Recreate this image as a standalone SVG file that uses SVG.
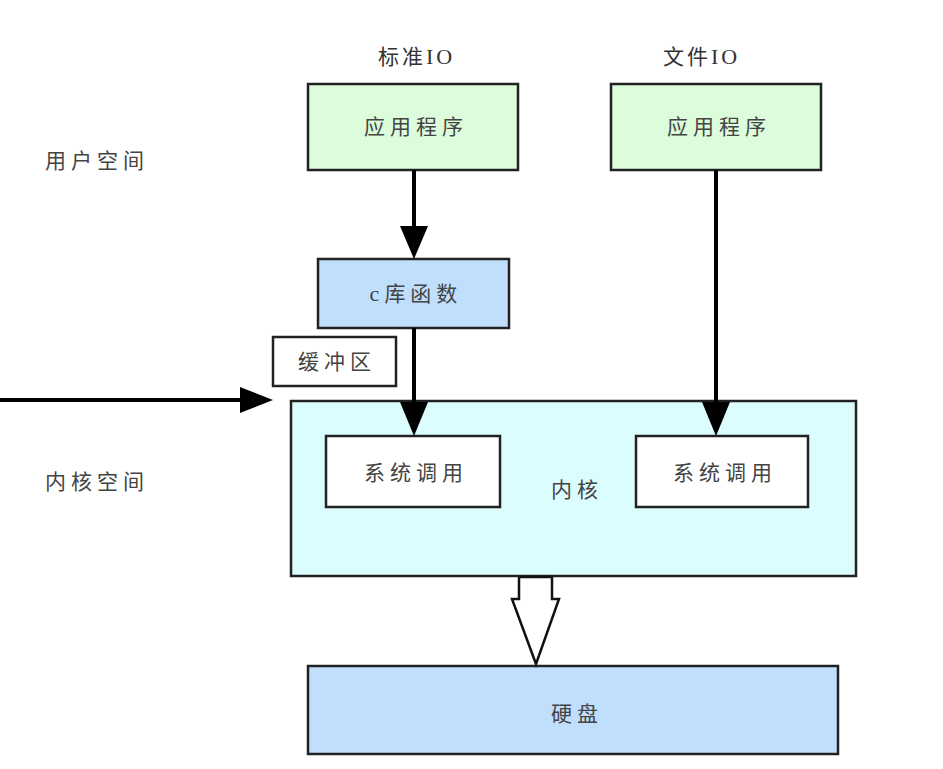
<svg xmlns="http://www.w3.org/2000/svg" width="943" height="769" viewBox="0 0 943 769">
<defs>
<style>
.box{stroke:#222;stroke-width:2.5}
.app{fill:#dcfcdc}
.blue{fill:#bfdffd}
.kern{fill:#dcfdfd}
.white{fill:#fff}
.t{font-family:"Noto Sans CJK SC","Liberation Serif",sans-serif;font-size:21px;fill:#444;letter-spacing:5px}
.lbl{font-family:"Noto Sans CJK SC","Liberation Serif",sans-serif;font-size:21px;fill:#333;letter-spacing:3px}
.ser{font-family:"Liberation Serif",serif;font-size:22px}
.ln{stroke:#000;stroke-width:4;fill:none}
.head{fill:#000}
</style>
</defs>
<rect width="943" height="769" fill="#fff"/>
<g id="label-user"><text class="t" x="45" y="168">用户空间</text></g>
<g id="label-kernel-space"><text class="t" x="45" y="489">内核空间</text></g>
<g id="label-stdio"><text class="lbl" x="378" y="64">标准<tspan class="ser">IO</tspan></text></g>
<g id="label-fileio"><text class="lbl" x="663" y="64">文件<tspan class="ser">IO</tspan></text></g>
<g id="kernel">
<rect class="box kern" x="291" y="401" width="565" height="175"/>
<text class="t" x="577" y="497" text-anchor="middle">内核</text>
</g>
<g id="app1"><rect class="box app" x="308" y="84" width="210" height="86"/><text class="t" x="416" y="134" text-anchor="middle">应用程序</text></g>
<g id="app2"><rect class="box app" x="611" y="84" width="210" height="86"/><text class="t" x="719" y="134" text-anchor="middle">应用程序</text></g>
<g id="clib"><rect class="box blue" x="318" y="259" width="191" height="69"/><text class="t" x="416" y="301" text-anchor="middle"><tspan class="ser">c</tspan>库函数</text></g>
<g id="buffer"><rect class="box white" x="273" y="337" width="123" height="49"/><text class="t" x="337" y="369" text-anchor="middle">缓冲区</text></g>
<g id="syscall1"><rect class="box white" x="326" y="436" width="174" height="71"/><text class="t" x="416" y="480" text-anchor="middle">系统调用</text></g>
<g id="syscall2"><rect class="box white" x="636" y="436" width="172" height="71"/><text class="t" x="725" y="480" text-anchor="middle">系统调用</text></g>
<g id="disk"><rect class="box blue" x="308" y="666" width="530" height="88"/><text class="t" x="577" y="721" text-anchor="middle">硬盘</text></g>
<g id="connectors">
<line class="ln" x1="414" y1="170" x2="414" y2="228"/>
<polygon class="head" points="400,226 428,226 414,259"/>
<line class="ln" x1="414" y1="328" x2="414" y2="404"/>
<polygon class="head" points="400,402 428,402 414,436"/>
<line class="ln" x1="716" y1="170" x2="716" y2="404"/>
<polygon class="head" points="702,402 730,402 716,436"/>
<line class="ln" x1="0" y1="400" x2="242" y2="400"/>
<polygon class="head" points="240,387 273,400 240,413"/>
<polygon points="519,577 552,577 552,599 559,599 536,664 512,599 519,599" fill="#fff" stroke="#111" stroke-width="2.5" stroke-linejoin="miter"/>
</g>
</svg>
